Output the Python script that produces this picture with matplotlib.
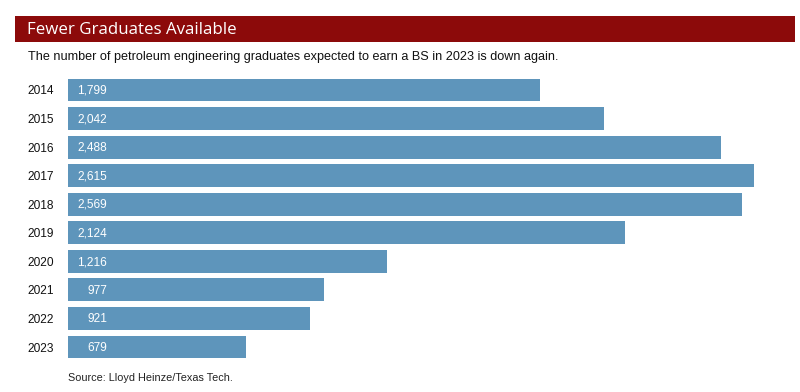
import matplotlib
matplotlib.use("Agg")
import matplotlib.pyplot as plt
from matplotlib.patches import Rectangle

years = ["2014", "2015", "2016", "2017", "2018", "2019", "2020", "2021", "2022", "2023"]
graduates = [1799, 2042, 2488, 2615, 2569, 2124, 1216, 977, 921, 679]
value_labels = ["1,799", "2,042", "2,488", "2,615", "2,569", "2,124", "1,216", "977", "921", "679"]

title = "Fewer Graduates Available"
subtitle = "The number of petroleum engineering graduates expected to earn a BS in 2023 is down again."
source = "Source: Lloyd Heinze/Texas Tech."

W, H = 800, 392
plt.rcParams['font.family'] = ['Liberation Sans', 'DejaVu Sans']
fig = plt.figure(figsize=(W / 100, H / 100), dpi=100)

# Title bar
fig.patches.append(Rectangle((15 / W, 1 - 42 / H), (795 - 15) / W, 26 / H,
                             transform=fig.transFigure, facecolor="#8c0a0a",
                             edgecolor="none"))
fig.text(27 / W, 1 - 29.5 / H, title, color="white", fontsize=12.2, va="center", ha="left",
         family=["Open Sans", "DejaVu Sans"])
fig.text(28 / W, 1 - 57 / H, subtitle, color="#111111", fontsize=9.1, va="center", ha="left")
fig.text(68 / W, 1 - 378 / H, source, color="#222222", fontsize=7.8, va="center", ha="left")

ax_left, ax_right = 68, 795
ax_top, ax_bot = 75.7, 361.3
ax = fig.add_axes([ax_left / W, 1 - ax_bot / H, (ax_right - ax_left) / W, (ax_bot - ax_top) / H])
scale = 0.2624  # px per unit
ax.set_xlim(0, (ax_right - ax_left) / scale)
pos = list(range(len(years)))
ax.barh(pos, graduates, height=0.8, color="#5e95bb", edgecolor="none")
ax.set_ylim(len(years) - 0.5, -0.5)
ax.set_yticks(pos)
ax.set_yticklabels(years, fontsize=8.6, color="#111111")
ax.tick_params(axis="y", length=0, pad=10)
ax.set_xticks([])
for s in ax.spines.values():
    s.set_visible(False)

for p, lab in zip(pos, value_labels):
    ax.annotate(lab, xy=(0, p), xytext=(28, -0.5), textcoords="offset points",
                ha="right", va="center", color="white", fontsize=8.6)

fig.savefig("out.png", dpi=100)
